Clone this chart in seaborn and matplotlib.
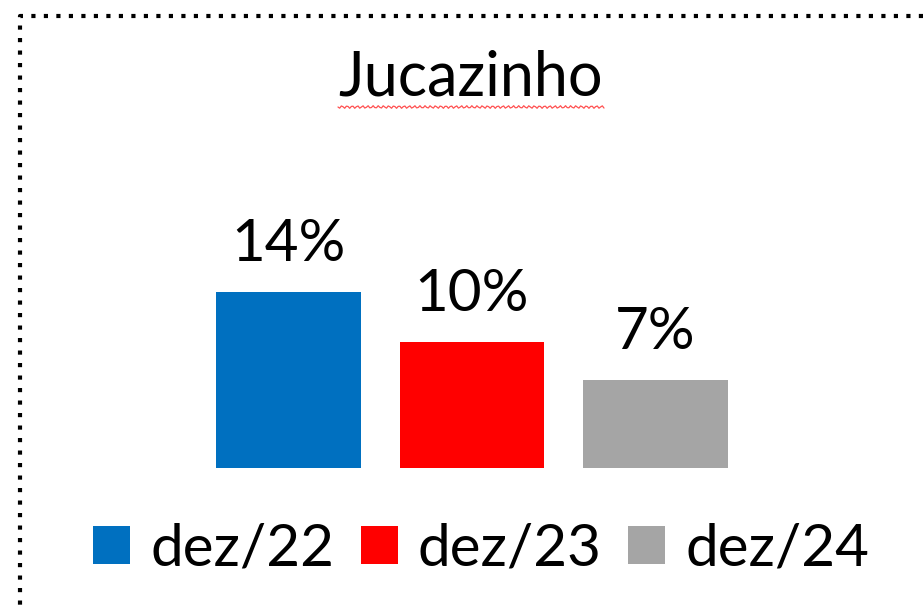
import numpy as np
import pandas as pd
import matplotlib
matplotlib.use("Agg")
import matplotlib.pyplot as plt
from matplotlib.lines import Line2D
import seaborn as sns

# ---- data ----
categories = ["dez/22", "dez/23", "dez/24"]
values = [14, 10, 7]
colors = ["#0070C0", "#FF0000", "#A5A5A5"]
title = "Jucazinho"

sns.set_theme(style="white")
plt.rcParams["font.family"] = ["Lato", "DejaVu Sans"]
plt.rcParams["text.color"] = "black"

W, H = 923, 609
fig = plt.figure(figsize=(W / 100, H / 100), dpi=100)
fig.patch.set_facecolor("white")

# axes placement (pixels -> fraction)
left_px, width_px = 196.75, 550.5
bottom_px = 468
unit_px = 12.6
ymax = 16
ax = fig.add_axes([left_px / W, (H - bottom_px) / H, width_px / W, ymax * unit_px / H])

df = pd.DataFrame({"period": categories, "value": values})
sns.barplot(data=df, x="period", y="value", hue="period", palette=colors,
            width=0.79, ax=ax, saturation=1, legend=True, linewidth=0)
ax.set_xlim(-0.5, 2.5)
ax.set_ylim(0, ymax)
ax.set_axis_off()

for cont in ax.containers:
    ax.bar_label(cont, fmt="{:.0f}%", padding=15, fontsize=42, color="black")

sns.move_legend(ax, loc="center", bbox_to_anchor=(481 / W, (H - 549) / H),
                bbox_transform=fig.transFigure, ncol=3, frameon=False,
                fontsize=42, handlelength=0.64, handleheight=0.64,
                handletextpad=0.34, columnspacing=0.45, title=None,
                borderaxespad=0, borderpad=0, labelcolor="black")

# title
fig.text(471 / W, 1 - 96 / H, title, ha="center", va="baseline", fontsize=44, color="black")

# wavy spell-check underline
xs = np.linspace(338, 604, 160)
ys = 107 + 1.3 * np.sin((xs - 338) / 2.6 * np.pi)
fig.add_artist(Line2D(xs / W, 1 - ys / H, color="#FF5050", lw=0.9))

# dotted border (top & left)
bx, by = 19.5 / W, 1 - 16 / H
fig.add_artist(Line2D([1.0, bx, bx], [by, by, 0.0], color="black", lw=3,
                      linestyle=(0, (1, 2)), dash_capstyle="butt",
                      solid_joinstyle="miter"))

fig.savefig("out.png", dpi=100, facecolor="white")
